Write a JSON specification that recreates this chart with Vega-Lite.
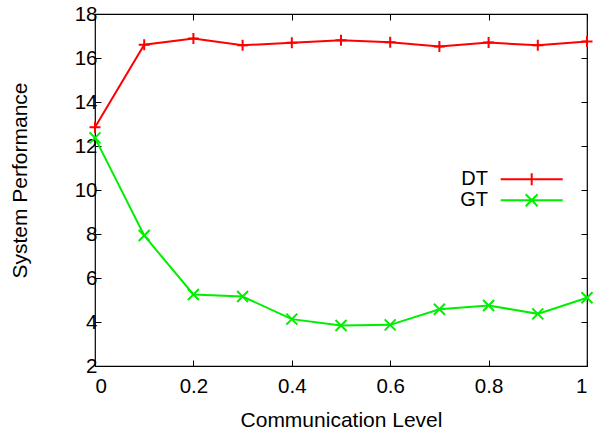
{
  "$schema": "https://vega.github.io/schema/vega-lite/v6.json",
  "width": 492,
  "height": 352,
  "autosize": {"type": "none"},
  "padding": {"left": 95, "top": 14, "right": 8, "bottom": 66},
  "background": "white",
  "config": {
    "view": {"stroke": "#000000", "strokeWidth": 1.2},
    "font": "Liberation Sans",
    "axis": {"grid": false, "domain": false, "tickColor": "#000000", "tickWidth": 1, "tickSize": -6, "labelColor": "#000000", "labelFont": "Liberation Sans", "labelFontSize": 20.5, "titleFont": "Liberation Sans", "titleFontSize": 21, "titleFontWeight": "normal", "titleColor": "#000000"}
  },
  "data": {
    "values": [
      {"level": 0.0, "perf": 12.85, "series": "DT"},
      {"level": 0.1, "perf": 16.6, "series": "DT"},
      {"level": 0.2, "perf": 16.89, "series": "DT"},
      {"level": 0.3, "perf": 16.58, "series": "DT"},
      {"level": 0.4, "perf": 16.69, "series": "DT"},
      {"level": 0.5, "perf": 16.81, "series": "DT"},
      {"level": 0.6, "perf": 16.72, "series": "DT"},
      {"level": 0.7, "perf": 16.52, "series": "DT"},
      {"level": 0.8, "perf": 16.7, "series": "DT"},
      {"level": 0.9, "perf": 16.58, "series": "DT"},
      {"level": 1.0, "perf": 16.75, "series": "DT"},
      {"level": 0.0, "perf": 12.37, "series": "GT"},
      {"level": 0.1, "perf": 7.93, "series": "GT"},
      {"level": 0.2, "perf": 5.25, "series": "GT"},
      {"level": 0.3, "perf": 5.16, "series": "GT"},
      {"level": 0.4, "perf": 4.13, "series": "GT"},
      {"level": 0.5, "perf": 3.84, "series": "GT"},
      {"level": 0.6, "perf": 3.87, "series": "GT"},
      {"level": 0.7, "perf": 4.58, "series": "GT"},
      {"level": 0.8, "perf": 4.75, "series": "GT"},
      {"level": 0.9, "perf": 4.37, "series": "GT"},
      {"level": 1.0, "perf": 5.1, "series": "GT"}
    ]
  },
  "layer": [
    {
      "mark": {"type": "line", "strokeWidth": 2},
      "encoding": {
        "x": {"field": "level", "type": "quantitative", "scale": {"domain": [0, 1], "nice": false},
          "axis": {"values": [0, 0.2, 0.4, 0.6, 0.8, 1], "format": "~g", "title": "Communication Level", "labelPadding": 16, "titleBaseline": "alphabetic", "titleY": 60}},
        "y": {"field": "perf", "type": "quantitative", "scale": {"domain": [2, 18], "nice": false, "zero": false},
          "axis": {"values": [2, 4, 6, 8, 10, 12, 14, 16, 18], "title": "System Performance", "labelPadding": 4, "titleAngle": -90, "titleBaseline": "alphabetic", "titleAlign": "center", "titleX": -69, "titleY": 166}},
        "color": {"field": "series", "type": "nominal",
          "scale": {"domain": ["DT", "GT"], "range": ["#ff0000", "#00ee00"]},
          "legend": {"orient": "none", "legendX": 426.7, "legendY": 155.3, "title": null, "padding": 0,
            "symbolSize": 144, "symbolStrokeWidth": 2, "symbolFillColor": "transparent", "rowPadding": 1,
            "labelOffset": -53.7, "labelAlign": "right", "labelFontSize": 20, "labelFont": "Liberation Sans", "labelColor": "#000000",
            "encode": {"symbols": {"update": {
              "shape": {"signal": "datum.value === 'DT' ? 'M-5.17,0H5.17M0,-1V1' : 'M-5.17,0H5.17M-1,-1L1,1M-1,1L1,-1'"},
              "size": {"value": 144},
              "strokeWidth": {"value": 2},
              "fill": {"value": "transparent"}
            }}}}}
      }
    },
    {
      "transform": [{"filter": "datum.series === 'DT'"}],
      "mark": {"type": "point", "filled": false, "size": 121, "strokeWidth": 2, "opacity": 1, "shape": "M-1,0H1M0,-1V1"},
      "encoding": {
        "x": {"field": "level", "type": "quantitative",
          "axis": {"orient": "top", "values": [0, 0.2, 0.4, 0.6, 0.8, 1], "labels": false, "title": null}},
        "y": {"field": "perf", "type": "quantitative",
          "axis": {"orient": "right", "values": [2, 4, 6, 8, 10, 12, 14, 16, 18], "labels": false, "title": null}},
        "color": {"field": "series", "type": "nominal"}
      }
    },
    {
      "transform": [{"filter": "datum.series === 'GT'"}],
      "mark": {"type": "point", "filled": false, "size": 121, "strokeWidth": 2, "opacity": 1, "shape": "M-1,-1L1,1M-1,1L1,-1"},
      "encoding": {
        "x": {"field": "level", "type": "quantitative", "axis": null},
        "y": {"field": "perf", "type": "quantitative", "axis": null},
        "color": {"field": "series", "type": "nominal"}
      }
    }
  ],
  "resolve": {"axis": {"x": "independent", "y": "independent"}}
}
